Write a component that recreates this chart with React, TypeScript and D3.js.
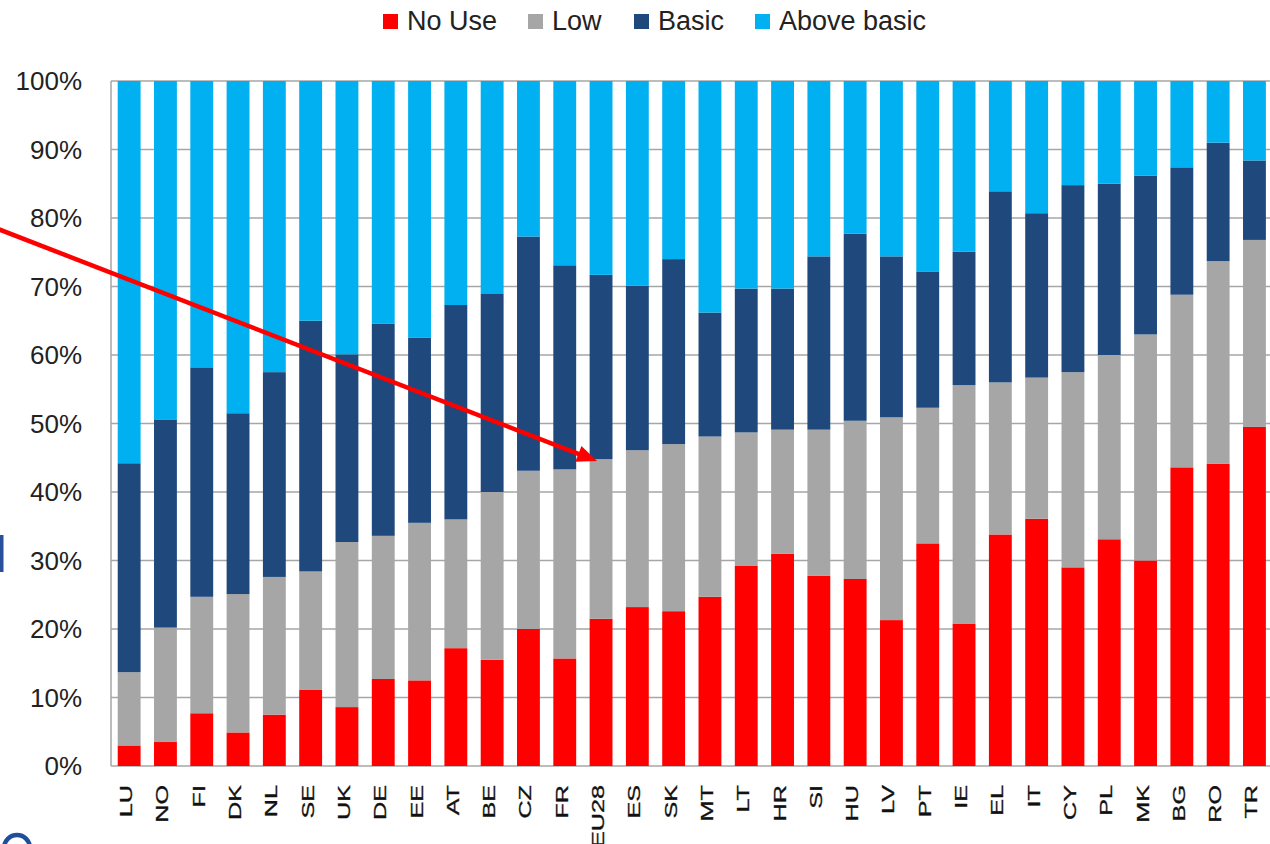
import React from "react";
import * as d3 from "d3";

const categories = ["LU","NO","FI","DK","NL","SE","UK","DE","EE","AT","BE","CZ","FR","EU28","ES","SK","MT","LT","HR","SI","HU","LV","PT","IE","EL","IT","CY","PL","MK","BG","RO","TR"];
const noUse = [3.0,3.5,7.7,4.9,7.5,11.1,8.6,12.7,12.5,17.2,15.5,20.0,15.7,21.5,23.2,22.6,24.7,29.2,31.0,27.8,27.3,21.3,32.5,20.8,33.8,36.1,29.0,33.1,30.0,43.6,44.1,49.5];
const low = [10.7,16.7,17.0,20.2,20.1,17.3,24.1,20.9,23.0,18.8,24.5,23.1,27.6,23.3,22.9,24.4,23.4,19.5,18.1,21.3,23.1,29.6,19.8,34.8,22.2,20.6,28.5,26.9,33.0,25.2,29.6,27.3];
const basic = [30.5,30.4,33.5,26.4,29.9,36.6,27.4,31.0,27.0,31.3,29.0,34.2,29.8,26.9,24.0,27.0,18.1,21.0,20.6,25.3,27.3,23.5,19.9,19.5,27.9,24.0,27.3,25.0,23.2,18.6,17.3,11.6];
const aboveBasic = categories.map((_, i) => +(100 - noUse[i] - low[i] - basic[i]).toFixed(1));
const seriesNames = ["No Use", "Low", "Basic", "Above basic"];
const seriesColors = ["#ff0000", "#a6a6a6", "#1f497d", "#00b0f0"];
const yTicks = [0, 10, 20, 30, 40, 50, 60, 70, 80, 90, 100];

const W = 1270, H = 844;
const plotLeft = 111, plotRight = 1272.6, plotTop = 81, plotBottom = 766;

export default function App() {
  const x = d3.scaleBand<string>().domain(categories).range([plotLeft, plotRight]).paddingInner(0.37).paddingOuter(0.185);
  const y = d3.scaleLinear().domain([0, 100]).range([plotBottom, plotTop]);
  const rows = categories.map((c, i) => ({ cat: c, "No Use": noUse[i], Low: low[i], Basic: basic[i], "Above basic": aboveBasic[i] }));
  const stacked = d3.stack<any>().keys(seriesNames)(rows);

  const legendItems = [
    { name: "No Use", sx: 383, tx: 407 },
    { name: "Low", sx: 528, tx: 552 },
    { name: "Basic", sx: 634, tx: 658 },
    { name: "Above basic", sx: 755, tx: 779 },
  ];

  // arrow annotation pointing at EU28's Low segment top
  const eu = categories.indexOf("EU28");
  const tipX = (x("EU28") as number) + x.bandwidth() / 2 - 4;
  const tipY = y(noUse[eu] + low[eu]) + 2;
  const startX = -20, startY = 222;
  const dx = tipX - startX, dy = tipY - startY;
  const len = Math.hypot(dx, dy);
  const ux = dx / len, uy = dy / len;
  const headLen = 20, headHalf = 8.5;
  const bx = tipX - ux * headLen, by = tipY - uy * headLen;
  const head = [
    [tipX, tipY],
    [bx - uy * headHalf, by + ux * headHalf],
    [bx + uy * headHalf, by - ux * headHalf],
  ].map(p => p.join(",")).join(" ");

  const font = "'Liberation Sans', Arial, sans-serif";

  return (
    <svg width={W} height={H} style={{ position: "absolute", left: 0, top: 0, display: "block", background: "#fff" }} fontFamily={font}>
      {/* legend */}
      {legendItems.map((l, i) => (
        <g key={l.name}>
          <rect x={l.sx} y={14} width={15} height={15} fill={seriesColors[i]} />
          <text x={l.tx} y={30} fontSize={27} fill="#222">{l.name}</text>
        </g>
      ))}

      {/* gridlines */}
      {yTicks.map(t => (
        <line key={t} x1={plotLeft} x2={W} y1={y(t)} y2={y(t)} stroke="#a6a6a6" strokeWidth={1.5} />
      ))}
      <line x1={plotLeft} x2={plotLeft} y1={plotTop} y2={plotBottom} stroke="#a6a6a6" strokeWidth={1.5} />

      {/* y labels */}
      {yTicks.map(t => (
        <text key={t} x={82} y={y(t)} dy="0.36em" textAnchor="end" fontSize={26} fill="#222">{t}%</text>
      ))}

      {/* bars */}
      {stacked.map((s, si) => (
        <g key={s.key} fill={seriesColors[si]}>
          {s.map((d, i) => (
            <rect key={categories[i]} x={x(categories[i])} y={y(d[1])} width={x.bandwidth()} height={y(d[0]) - y(d[1])} />
          ))}
        </g>
      ))}

      {/* x labels */}
      {categories.map(c => {
        const cx = (x(c) as number) + x.bandwidth() / 2;
        return (
          <text key={c} transform={`translate(${cx + 3},785) rotate(-90) scale(1.5,1)`} textAnchor="end" fontSize={16.8} fill="#111" stroke="#111" strokeWidth={0.3}>{c}</text>
        );
      })}

      {/* arrow */}
      <line x1={startX} y1={startY} x2={bx + ux * 2} y2={by + uy * 2} stroke="#ff0000" strokeWidth={4.5} />
      <polygon points={head} fill="#ff0000" />

      {/* slide fragments at left edge */}
      <rect x={0} y={535} width={3.5} height={37} fill="#2a4f9c" />
      <circle cx={17} cy={848} r={13} fill="none" stroke="#1f4e9c" strokeWidth={4.5} />
    </svg>
  );
}
